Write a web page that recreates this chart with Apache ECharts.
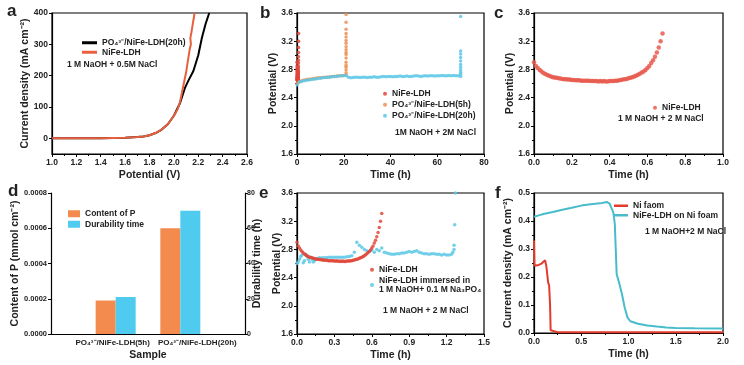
<!DOCTYPE html>
<html><head><meta charset="utf-8">
<script src="https://cdn.jsdelivr.net/npm/echarts@6/dist/echarts.min.js"></script>
<style>html,body{margin:0;padding:0;background:#fff}#c{width:744px;height:365px}</style>
</head><body><div id="c"></div>
<script>
// ---------- Panel a: LSV ----------
const aNiFePotential = [1.0,1.4,1.6,1.7,1.75,1.8,1.85,1.9,1.95,2.0,2.03,2.05,2.075,2.1,2.12,2.13,2.14,2.135,2.145,2.155,2.17];
const aNiFeCurrent   = [0,0.5,2,4,6,10,17,28,45,72,92,115,163,210,260,285,300,320,340,365,400];
const aPO20Potential = [1.0,1.4,1.6,1.7,1.75,1.8,1.85,1.9,1.95,2.0,2.05,2.09,2.12,2.16,2.2,2.23,2.26,2.29];
const aPO20Current   = [0,0.5,2,4,6,10,17,28,45,72,112,160,185,215,265,321,365,400];

// ---------- Panel c (also b, e): NiFe-LDH chronopotentiometry ----------
const nifeTime = [0,0.01,0.02,0.03,0.04,0.05,0.06,0.07,0.08,0.09,0.10,0.11,0.12,0.13,0.14,0.15,0.16,0.17,0.18,0.19,0.20,
  0.21,0.22,0.23,0.24,0.25,0.26,0.27,0.28,0.29,0.30,0.31,0.32,0.33,0.34,0.35,0.36,0.37,0.38,0.39,0.40,
  0.41,0.42,0.43,0.44,0.45,0.46,0.47,0.48,0.49,0.50,0.51,0.52,0.53,0.54,0.55,0.56,0.57,0.58,0.59,0.60,
  0.61,0.62,0.63,0.64,0.65,0.66,0.67,0.68];
const nifePotential = [2.90,2.85,2.82,2.79,2.77,2.75,2.735,2.72,2.71,2.70,2.69,2.685,2.68,2.675,2.67,2.665,2.66,2.66,2.655,2.655,2.65,
  2.65,2.645,2.645,2.645,2.64,2.64,2.64,2.64,2.64,2.635,2.635,2.635,2.635,2.63,2.635,2.63,2.635,2.63,2.63,2.635,
  2.635,2.635,2.64,2.64,2.645,2.65,2.655,2.66,2.665,2.675,2.68,2.69,2.70,2.71,2.725,2.74,2.755,2.77,2.79,2.82,
  2.85,2.89,2.93,2.98,3.04,3.11,3.20,3.31];

// ---------- Panel b ----------
const bPO5Time = [0,1,2,3,4,5,6,7,8,9,10,11,12,13,14,15,16,17,18,19,20,21,
  21,21,21,21,21,21,21,21,21,21,21,21,21,21,21,21,21];
const bPO5Potential = [2.60,2.62,2.64,2.65,2.655,2.66,2.665,2.67,2.675,2.68,2.68,2.685,2.69,2.69,2.695,2.70,2.70,2.705,2.71,2.71,2.715,2.72,
  2.75,2.79,2.83,2.86,2.90,2.96,3.01,3.04,3.08,3.12,3.17,3.21,3.26,3.31,3.37,3.47,3.58];
const bPO20Time = [0,1,2,3,4,5,6,7,8,9,10,11,12,13,14,15,16,17,18,19,20,21,22,23,24,25,26,27,28,29,30,
  31,32,33,34,35,36,37,38,39,40,41,42,43,44,45,46,47,48,49,50,51,52,53,54,55,56,57,58,59,60,
  61,62,63,64,65,66,67,68,69,70,70,70,70,70,70,70,70,70,70,70];
const bPO20Potential = [2.58,2.62,2.63,2.64,2.645,2.65,2.655,2.66,2.665,2.67,2.675,2.68,2.685,2.69,2.69,2.695,2.70,2.70,2.705,2.71,2.71,2.715,2.69,2.68,2.685,2.69,2.69,2.685,2.69,2.69,2.685,
  2.69,2.69,2.695,2.69,2.69,2.695,2.70,2.695,2.70,2.70,2.695,2.70,2.70,2.705,2.70,2.70,2.705,2.70,2.70,2.705,2.71,2.705,2.70,2.705,2.71,2.705,2.71,2.71,2.705,2.71,
  2.71,2.715,2.71,2.71,2.715,2.71,2.715,2.71,2.71,2.70,2.73,2.76,2.79,2.83,2.87,2.92,2.97,3.02,3.06,3.55];

// ---------- Panel d ----------
const dSamples = ['', 'PO₄³⁻/NiFe-LDH(5h)', 'PO₄³⁻/NiFe-LDH(20h)', ''];
const dContentP = [null, 0.00019, 0.00060, null];
const dDurability = [null, 21, 70, null];

// ---------- Panel e ----------
const eImmTime = [0,0.02,0.04,0.06,0.08,0.10,0.12,0.14,0.16,0.18,0.20,0.22,0.24,0.26,0.28,0.30,0.32,0.34,0.36,0.38,0.40,0.42,0.44,0.46,0.48,
  0.50,0.52,0.54,0.56,0.58,0.60,0.62,0.64,0.66,0.68,0.70,0.72,0.74,0.76,0.78,0.80,0.82,0.84,0.86,0.88,0.90,0.92,0.94,0.96,0.98,
  1.00,1.02,1.04,1.06,1.08,1.10,1.12,1.14,1.16,1.18,1.20,1.22,1.24,1.25,1.26,1.26,1.265,1.27,
  0.01,0.03,0.05,0.07,0.09,0.11,0.13];
const eImmPotential = [2.60,2.66,2.72,2.64,2.70,2.62,2.66,2.64,2.67,2.68,2.68,2.68,2.685,2.69,2.69,2.69,2.69,2.69,2.69,2.69,2.695,2.70,2.71,2.76,2.90,
  2.86,2.83,2.80,2.78,2.77,2.79,2.76,2.80,2.78,2.82,2.76,2.75,2.74,2.73,2.73,2.74,2.74,2.75,2.75,2.76,2.77,2.76,2.77,2.78,2.76,
  2.75,2.74,2.74,2.73,2.74,2.74,2.73,2.73,2.72,2.73,2.72,2.72,2.73,2.76,2.80,2.86,3.15,3.60,
  2.62,2.70,2.61,2.73,2.66,2.69,2.62];

// ---------- Panel f ----------
const fNiFoamTime = [0,0.005,0.02,0.05,0.08,0.1,0.117,0.13,0.14,0.15,0.16,0.17,0.176,0.19,0.25,0.5,1.0,1.5,2.0];
const fNiFoamCurrent = [0.33,0.24,0.24,0.243,0.248,0.252,0.26,0.24,0.21,0.18,0.17,0.10,0.01,0.004,0.003,0.003,0.003,0.003,0.003];
const fLDHTime = [0,0.05,0.1,0.2,0.3,0.4,0.5,0.6,0.7,0.77,0.8,0.82,0.84,0.855,0.865,0.875,0.9,0.93,0.96,0.99,1.02,1.1,1.2,1.3,1.4,1.5,1.7,2.0];
const fLDHCurrent = [0.415,0.42,0.425,0.432,0.44,0.447,0.455,0.46,0.463,0.468,0.462,0.455,0.43,0.39,0.30,0.21,0.18,0.14,0.09,0.055,0.042,0.033,0.027,0.023,0.02,0.018,0.017,0.016];

const legendText = {
  aPO: 'PO₄³⁻/NiFe-LDH(20h)', aNi: 'NiFe-LDH',
  bNi: 'NiFe-LDH', b5: 'PO₄³⁻/NiFe-LDH(5h)', b20: 'PO₄³⁻/NiFe-LDH(20h)',
  cNi: 'NiFe-LDH',
  dP: 'Content of P', dD: 'Durability time',
  eNi: 'NiFe-LDH', eIm: 'NiFe-LDH immersed in\n1 M NaOH+ 0.1 M Na₃PO₄',
  fNi: 'Ni faom', fLDH: 'NiFe-LDH on Ni foam'
};

const zip = (xs, ys) => xs.map((x, i) => [x, ys[i]]);
const FONT = 'Liberation Sans';
const C_ORANGE = '#ec8f52', C_CYAN = '#5cc8e6', C_BLACK = '#000';

function axis(o) {
  const base = {
    gridIndex: o.grid, type: 'value', min: o.min, max: o.max, interval: o.interval,
    name: o.name, nameLocation: 'middle', nameGap: o.nameGap, nameMoveOverlap: false,
    nameTextStyle: { fontSize: 10.5, fontWeight: 'bold', fontFamily: FONT, color: '#222' },
    axisLine: { show: true, onZero: false, lineStyle: { color: '#000', width: 1.2 } },
    axisTick: { show: true, inside: false, length: 3, lineStyle: { color: '#000', width: 1 } },
    minorTick: { show: o.minor !== false, splitNumber: 2, length: 2, lineStyle: { color: '#000', width: 1 } },
    splitLine: { show: false },
    axisLabel: { fontSize: o.labelSize || 8.5, color: '#222', fontFamily: FONT, fontWeight: 'bold', margin: o.labelMargin || 4,
      formatter: o.fmt }
  };
  if (o.position) base.position = o.position;
  if (o.nameRotate !== undefined) base.nameRotate = o.nameRotate;
  if (o.custom) {
    base.axisLabel.customValues = o.custom;
    base.axisTick.customValues = o.custom;
    base.minorTick.show = false;
    delete base.interval;
  }
  return base;
}
const f1 = v => v.toFixed(1), f0 = v => v.toFixed(0), f4 = v => v.toFixed(4);

const gridBox = (l, t, w, h, box) => ({ left: l, top: t, width: w, height: h, show: box, borderColor: '#000', borderWidth: 1.2, containLabel: false });

const textStyleLeg = { fontSize: 8.5, fontWeight: 'bold', fontFamily: FONT, color: '#222', lineHeight: 9.5 };
function legend(data, left, top, icon, w, h, gap) {
  return { data: data, left: left, top: top, orient: 'vertical', icon: icon, itemWidth: w, itemHeight: h,
    itemGap: gap, padding: 0, selectedMode: false, textStyle: textStyleLeg,
    formatter: n => legendText[n] };
}

const scat = (name, x, y, data, color, size) => ({
  name: name, type: 'scatter', xAxisIndex: x, yAxisIndex: y, data: data, symbolSize: size || 3.5,
  itemStyle: { color: color, opacity: 0.85 }, silent: true, animation: false });

const line = (name, x, y, data, color, w) => ({
  name: name, type: 'line', xAxisIndex: x, yAxisIndex: y, data: data, symbol: 'none',
  lineStyle: { color: color, width: w || 2 }, itemStyle: { color: color }, silent: true, animation: false });

const txt = (x, y, s, size, weight) => ({ type: 'text', left: x, top: y,
  style: { text: s, fontSize: size || 8.5, fontWeight: weight || 'bold', fontFamily: FONT, fill: '#222' } });

const option = {
  animation: false,
  grid: [
    gridBox(52, 13, 195, 141, true),
    gridBox(297, 13, 187, 141, true),
    gridBox(534, 13, 189, 141, true),
    gridBox(51, 193, 194, 141, false),
    gridBox(297, 193, 187, 141, true),
    gridBox(534, 193, 189, 140, true)
  ],
  xAxis: [
    axis({ grid: 0, min: 1.0, max: 2.6, interval: 0.2, fmt: f1, name: 'Potential (V)', nameGap: 16 }),
    axis({ grid: 1, min: 0, max: 80, interval: 20, fmt: f0, name: 'Time (h)', nameGap: 16 }),
    axis({ grid: 2, min: 0, max: 1.0, interval: 0.2, fmt: f1, name: 'Time (h)', nameGap: 16 }),
    { gridIndex: 3, type: 'category', data: dSamples, boundaryGap: false,
      name: 'Sample', nameLocation: 'middle', nameGap: 16, nameMoveOverlap: false,
      nameTextStyle: { fontSize: 10.5, fontWeight: 'bold', fontFamily: FONT, color: '#222' },
      axisLine: { show: true, lineStyle: { color: '#000', width: 1.2 } },
      axisTick: { show: false },
      axisLabel: { fontSize: 8, color: '#222', fontFamily: FONT, fontWeight: 'bold', margin: 5, interval: 0,
        formatter: (v, i) => v ? (i === 1 ? '{l|' + v + '}' : '{r|' + v + '}') : '',
        rich: {
          l: { fontSize: 8, fontWeight: 'bold', fontFamily: FONT, color: '#222', padding: [0, 6, 0, 0] },
          r: { fontSize: 8, fontWeight: 'bold', fontFamily: FONT, color: '#222', padding: [0, 0, 0, 34] }
        } } },
    axis({ grid: 4, min: 0, max: 1.5, interval: 0.3, fmt: f1, name: 'Time (h)', nameGap: 16 }),
    axis({ grid: 5, min: 0, max: 2.0, interval: 0.5, fmt: f1, name: 'Time (h)', nameGap: 16 })
  ],
  yAxis: [
    axis({ grid: 0, min: -50, max: 400, custom: [0, 100, 200, 300, 400], fmt: f0, name: 'Current density (mA cm⁻²)', nameGap: 21 }),
    axis({ grid: 1, min: 1.6, max: 3.6, interval: 0.4, fmt: f1, name: 'Potential (V)', nameGap: 18 }),
    axis({ grid: 2, min: 1.6, max: 3.6, interval: 0.4, fmt: f1, name: 'Potential (V)', nameGap: 18 }),
    axis({ grid: 3, min: 0, max: 0.0008, interval: 0.0002, fmt: f4, name: 'Content of P (mmol cm⁻²)', nameGap: 30, minor: false, labelSize: 7.5, labelMargin: 4 }),
    axis({ grid: 3, min: 0, max: 80, interval: 20, fmt: f0, name: 'Durability time (h)', nameGap: 7, position: 'right', nameRotate: 90, minor: false, labelSize: 7, labelMargin: 2 }),
    axis({ grid: 4, min: 1.6, max: 3.6, interval: 0.4, fmt: f1, name: 'Potential (V)', nameGap: 14 }),
    axis({ grid: 5, min: 0, max: 0.5, interval: 0.1, fmt: f1, name: 'Current density (mA cm⁻²)', nameGap: 20 })
  ],
  legend: [
    legend(['aPO', 'aNi'], 82, 38, 'rect', 15, 3, 0),
    legend(['bNi', 'b5', 'b20'], 383, 89, 'circle', 4, 4, 1.5),
    legend(['cNi'], 653, 103, 'circle', 4, 4, 0),
    legend(['dP', 'dD'], 68, 209, 'rect', 12, 7, 1),
    legend(['eNi', 'eIm'], 370, 265, 'circle', 4, 4, 1),
    legend(['fNi', 'fLDH'], 614, 201, 'rect', 14, 2.5, 0)
  ],
  series: [
    line('aPO', 0, 0, zip(aPO20Potential, aPO20Current), C_BLACK, 2),
    line('aNi', 0, 0, zip(aNiFePotential, aNiFeCurrent), '#e8603f', 2),
    scat('bNi', 1, 1, zip(nifeTime, nifePotential), '#e0483a', 3.5),
    scat('b5', 1, 1, zip(bPO5Time, bPO5Potential), C_ORANGE, 3.5),
    scat('b20', 1, 1, zip(bPO20Time, bPO20Potential), C_CYAN, 3.5),
    scat('cNi', 2, 2, zip(nifeTime, nifePotential), '#e85a4e', 4.5),
    { name: 'dP', type: 'bar', xAxisIndex: 3, yAxisIndex: 3, data: dContentP, barWidth: 20, barGap: '0%',
      itemStyle: { color: '#f38b4f' }, silent: true },
    { name: 'dD', type: 'bar', xAxisIndex: 3, yAxisIndex: 4, data: dDurability, barWidth: 20, barGap: '0%',
      itemStyle: { color: '#4ecbef' }, silent: true },
    scat('eIm', 4, 5, zip(eImmTime, eImmPotential), C_CYAN, 3.5),
    scat('eNi', 4, 5, zip(nifeTime, nifePotential), '#e0483a', 3.5),
    line('fNi', 5, 6, zip(fNiFoamTime, fNiFoamCurrent), '#e43c2c', 2),
    line('fLDH', 5, 6, zip(fLDHTime, fLDHCurrent), '#48bccb', 2)
  ],
  graphic: [
    txt(7, 3, 'a', 17), txt(260, 5, 'b', 17), txt(494, 5, 'c', 17),
    txt(8, 183, 'd', 17), txt(259, 185, 'e', 17), txt(495, 185, 'f', 17),
    txt(67, 60, '1 M NaOH + 0.5M NaCl'),
    txt(395, 128, '1M NaOH + 2M NaCl'),
    txt(618, 114, '1 M NaOH + 2 M NaCl'),
    txt(383, 306, '1 M NaOH + 2 M NaCl'),
    txt(645, 227, '1 M NaOH+2 M NaCl')
  ]
};
echarts.init(document.getElementById('c'), null, { renderer: 'canvas' }).setOption(option);
</script></body></html>
